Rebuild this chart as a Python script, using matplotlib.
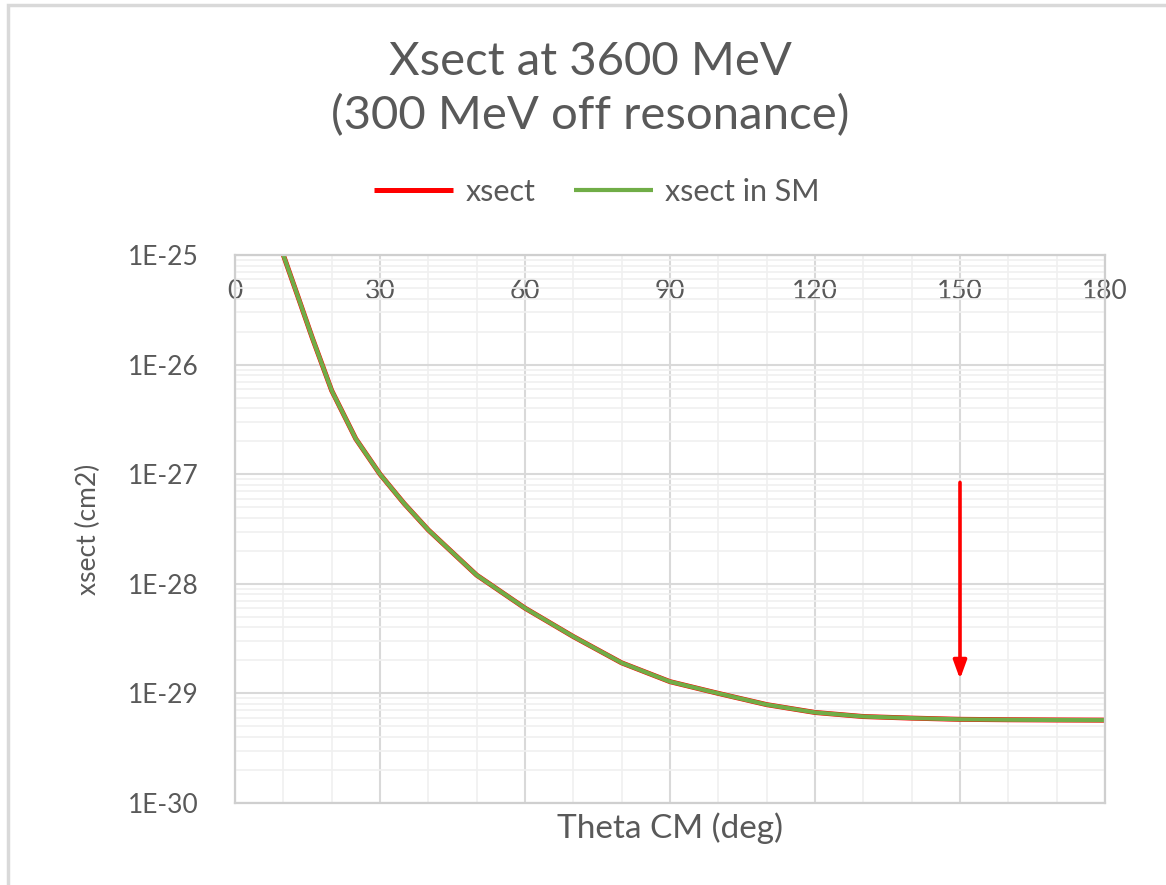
import matplotlib
matplotlib.use("Agg")
import matplotlib.pyplot as plt
from matplotlib.patches import Rectangle
from matplotlib.ticker import LogLocator, FixedLocator, NullFormatter

plt.rcParams['font.family'] = ['Lato', 'DejaVu Sans']

# values
theta = [10, 13, 16, 20, 25, 30, 35, 40, 50, 60, 70, 80, 90,
         100, 110, 120, 130, 140, 150, 160, 170, 180]
xsect = [1.0e-25, 4.2e-26, 1.75e-26, 5.8e-27, 2.1e-27, 1.0e-27, 5.4e-28, 3.1e-28,
         1.2e-28, 6.0e-29, 3.3e-29, 1.9e-29, 1.28e-29, 1.0e-29, 7.9e-30, 6.7e-30,
         6.15e-30, 5.95e-30, 5.8e-30, 5.75e-30, 5.72e-30, 5.7e-30]
xsect_sm = list(xsect)  # SM curve sits on top of the full one

x_ticks = [0, 30, 60, 90, 120, 150, 180]
y_ticks = [1e-25, 1e-26, 1e-27, 1e-28, 1e-29, 1e-30]
y_labels = ["1E-25", "1E-26", "1E-27", "1E-28", "1E-29", "1E-30"]

# arrow marking 150 deg
arrow_x = 150
arrow_top = 8.4e-28
arrow_tip = 1.35e-29

txt = "#595959"
major = "#d9d9d9"
minor = "#f0f0f0"

fig = plt.figure(figsize=(11.66, 8.85), dpi=100)
ax = fig.add_axes([235/1166, 1 - 803/885, 870/1166, 548/885])

ax.plot(theta, xsect, color="#ff0000", lw=3.6, label="xsect", solid_capstyle="butt")
ax.plot(theta, xsect_sm, color="#70ad47", lw=3.0, label="xsect in SM", solid_capstyle="butt")

ax.set_yscale("log")
ax.set_ylim(1e-30, 1e-25)
ax.set_xlim(0, 180)

ax.set_yticks(y_ticks)
ax.set_yticklabels(y_labels)
ax.yaxis.set_minor_locator(LogLocator(base=10, subs=range(2, 10)))
ax.yaxis.set_minor_formatter(NullFormatter())
ax.set_xticks(x_ticks)
ax.xaxis.set_minor_locator(FixedLocator(range(10, 180, 10)))

ax.grid(True, which="major", color=major, lw=1.5)
ax.grid(True, which="minor", color=minor, lw=1.2)
ax.set_axisbelow(True)

ax.tick_params(axis="x", which="both", bottom=False, top=False, labelbottom=False,
               labeltop=True, pad=-39, labelsize=19, labelcolor=txt)
ax.tick_params(axis="y", which="both", left=False, right=False, pad=23,
               labelsize=19, labelcolor=txt)

for s in ax.spines.values():
    s.set_color("#cfcfcf")
    s.set_linewidth(1.6)

ax.annotate("", xy=(arrow_x, arrow_tip), xytext=(arrow_x, arrow_top),
            arrowprops=dict(arrowstyle="-|>,head_length=1.1,head_width=0.4",
                            color="#ff0000", lw=2.6, shrinkA=0, shrinkB=0))

ax.set_xlabel("Theta CM (deg)", fontsize=24, color=txt, labelpad=7)
ax.set_ylabel("xsect (cm2)", fontsize=19, color=txt, labelpad=19)

fig.text(0.506, 1 - 89/885, "Xsect at 3600 MeV\n(300 MeV off resonance)",
         ha="center", va="center", fontsize=34, color=txt, linespacing=1.3)

fig.legend(loc="center", bbox_to_anchor=(597/1166, 1 - 192/885), ncol=2, frameon=False,
           fontsize=22, labelcolor=txt, handlelength=2.6, columnspacing=1.25,
           handletextpad=0.4)

# outer chart border
fig.add_artist(Rectangle((8/1166, -0.1), 1.2, 1.1 - 5/885, transform=fig.transFigure,
                         fill=False, edgecolor="#d9d9d9", lw=2.5))

fig.savefig("out.png", dpi=100)
